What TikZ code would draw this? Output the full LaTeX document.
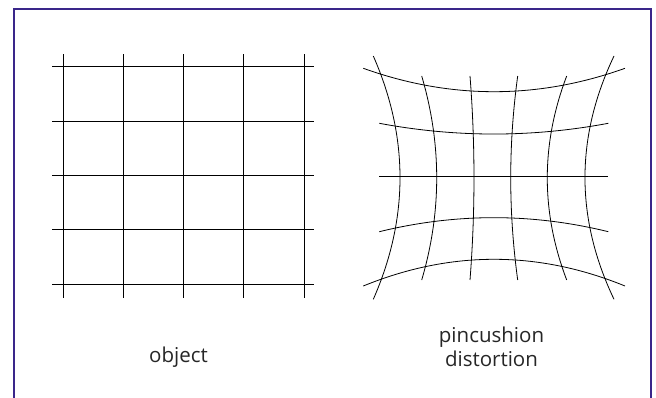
\documentclass[tikz,border=0pt]{standalone}
\usepackage{fontspec}
\usepackage{xcolor}
\newfontfamily\labelfont{Open Sans}
\definecolor{frameblue}{RGB}{58,38,138}
\usetikzlibrary{positioning}

\begin{document}
\begin{tikzpicture}[
  x=1pt, y=-1pt,
  frame/.style={draw=frameblue, line width=2.2pt},
  gridline/.style={draw=black, line width=0.8pt},
  lbl/.style={font=\labelfont\fontsize{20.5}{24}\selectfont, inner sep=0pt,
              align=center, text=black!85},
]
  \useasboundingbox (0,0) rectangle (656,398);
  \clip (0,0) rectangle (656,398);
  % outer frame, open at the bottom
  \draw[frame] (14.3,410) |- (651,9) -- (651,410);
  % object grid
  \foreach \x in {63,123.25,183.5,243.75,304}
    \draw[gridline] (\x,54.3) -- (\x,298.3);
  \foreach \y in {66.7,121,175.3,229.7,284}
    \draw[gridline] (52.3,\y) -- (314.3,\y);
  % pincushion grid: rows (start x / control x / end x / end y / control y)
  \foreach \xa/\xb/\xc/\xd/\ye/\yc in {363.3/450.4/537.7/625/68.3/99.5,
                                   379.3/455.8/532.1/608.3/123.3/137.6,
                                   379.3/455.8/532.1/608.3/176.7/176.7,
                                   379.3/455.8/532.1/608.3/231.7/213.0,
                                   363.3/450.4/537.7/625/286/250.4}
    \draw[gridline] (\xa,\ye) .. controls (\xb,\yc) and (\xc,\yc) .. (\xd,\ye);
  % pincushion grid: columns
  \foreach \xe/\xc in {373.3/408.9, 614/575.3}
    \draw[gridline] (\xe,56) .. controls (\xc,137.1) and (\xc,218.2) .. (\xe,299.3);
  \foreach \xe/\xc in {421.7/441.7, 470/475.3, 517.7/508.4, 566.7/540.8}
    \draw[gridline] (\xe,76) .. controls (\xc,144) and (\xc,212) .. (\xe,280);
  % labels
  \node[lbl, anchor=base] (obj) at (178.5,362.7) {object};
  \node[lbl, anchor=base] (pin) at (491.5,366) {pincushion\\distortion};
\end{tikzpicture}
\end{document}
